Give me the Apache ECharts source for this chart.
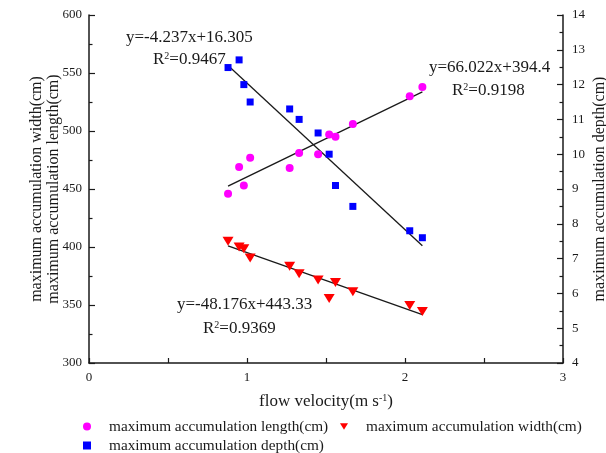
<!DOCTYPE html>
<html>
<head>
<meta charset="utf-8">
<style>
  html, body { margin: 0; padding: 0; background: #fff; }
  #chart { width: 606px; height: 453px; }
</style>
</head>
<body>
<div id="chart"></div>
<script src="https://cdn.jsdelivr.net/npm/echarts@6/dist/echarts.min.js"></script>
<script>
// flow velocity (m s-1) of each run
var velocity = [0.88, 0.95, 0.98, 1.02, 1.27, 1.33, 1.45, 1.52, 1.56, 1.67, 2.03, 2.11];
var lengthCm = [446, 469, 453, 477, 468, 481, 480, 497, 495, 506, 530, 538];
var widthCm  = [405, 400, 398.5, 390.5, 383.5, 377, 371.5, 355.5, 369.5, 361.5, 349.5, 344.5];
var depthCm  = [12.49, 12.71, 12.0, 11.5, 11.3, 11.0, 10.61, 10.0, 9.1, 8.5, 7.8, 7.6];
// fitted line end points
var lengthFit = [[0.88, 452.5], [2.11, 533.7]];
var widthFit  = [[0.88, 400.9], [2.11, 341.7]];
var depthFit  = [[0.88, 12.55], [2.11, 7.37]];

var names = ['maximum accumulation length(cm)', 'maximum accumulation width(cm)', 'maximum accumulation depth(cm)'];
var font = 'Liberation Serif';
var ink = '#1a1a1a';
var downTri = 'path://M0,0 L10,0 L5,8 Z';

function pairs(xs, ys) {
  var out = [];
  for (var i = 0; i < xs.length; i++) out.push([xs[i], ys[i]]);
  return out;
}

var chart = echarts.init(document.getElementById('chart'));

var axisCommon = {
  axisLine: { show: true, lineStyle: { color: ink, width: 1.5 } },
  axisTick: { show: true, inside: true, length: 6, lineStyle: { color: ink, width: 1.2 } },
  minorTick: { show: true, splitNumber: 2, length: 3.5, lineStyle: { color: ink, width: 1.2 } },
  splitLine: { show: false },
  axisLabel: { fontFamily: font, fontSize: 13, color: ink },
  nameMoveOverlap: false,
  nameTextStyle: { fontFamily: font, fontSize: 16, color: ink }
};

function legendOf(name, left, top, icon) {
  return {
    data: [{ name: name, icon: icon }],
    left: left, top: top,
    itemWidth: 8, itemHeight: 8,
    selectedMode: false,
    textStyle: { fontFamily: font, fontSize: 15.3, color: ink, padding: [0, 0, 0, 13] }
  };
}

function label(x, y, text) {
  return {
    type: 'text', left: x, top: y,
    style: {
      text: text,
      fill: ink,
      rich: {
        t: { fontFamily: font, fontSize: 17, fill: ink, lineHeight: 18 },
        s: { fontFamily: font, fontSize: 10, fill: ink, lineHeight: 16, verticalAlign: 'top' }
      }
    }
  };
}

var option = {
  animation: false,
  backgroundColor: '#fff',
  grid: { left: 89, right: 43, top: 15, bottom: 90, containLabel: false, outerBoundsMode: 'none' },
  legend: [
    legendOf(names[0], 78, 414, 'circle'),
    legendOf(names[1], 335, 414, downTri),
    legendOf(names[2], 78, 433, 'rect')
  ],
  xAxis: Object.assign({}, axisCommon, {
    type: 'value', min: 0, max: 3, interval: 1,
    axisTick: { show: true, inside: true, length: 5, lineStyle: { color: ink, width: 1.2 } },
    minorTick: { show: true, splitNumber: 2, length: 5, lineStyle: { color: ink, width: 1.2 } },
    axisLabel: { fontFamily: font, fontSize: 13, color: ink, margin: 8 },
    name: '{t|flow velocity(m s}{s|-1}{t|)}',
    nameLocation: 'middle', nameGap: 30,
    nameTextStyle: {
      rich: {
        t: { fontFamily: font, fontSize: 17, color: ink, lineHeight: 18 },
        s: { fontFamily: font, fontSize: 10, color: ink, lineHeight: 16, verticalAlign: 'top' }
      }
    }
  }),
  yAxis: [
    Object.assign({}, axisCommon, {
      type: 'value', position: 'left', min: 300, max: 600, interval: 50,
      axisLabel: { fontFamily: font, fontSize: 13, color: ink, margin: 7 },
      name: names[0], nameLocation: 'middle', nameGap: 27, nameRotate: 90
    }),
    Object.assign({}, axisCommon, {
      type: 'value', position: 'right', min: 4, max: 14, interval: 1,
      axisLabel: { fontFamily: font, fontSize: 13, color: ink, margin: 9 },
      name: names[2], nameLocation: 'middle', nameGap: 29, nameRotate: 90
    }),
    {
      type: 'value', position: 'left', min: 300, max: 600,
      axisLine: { show: false }, axisTick: { show: false }, axisLabel: { show: false },
      splitLine: { show: false }, nameMoveOverlap: false,
      name: names[1], nameLocation: 'middle', nameGap: 44, nameRotate: 90,
      nameTextStyle: { fontFamily: font, fontSize: 16, color: ink }
    }
  ],
  graphic: [
    label(126, 29, '{t|y=-4.237x+16.305}'),
    label(153, 51, '{t|R}{s|2}{t|=0.9467}'),
    label(429, 59, '{t|y=66.022x+394.4}'),
    label(452, 82, '{t|R}{s|2}{t|=0.9198}'),
    label(177, 296, '{t|y=-48.176x+443.33}'),
    label(203, 320, '{t|R}{s|2}{t|=0.9369}')
  ],
  series: [
    { name: names[0], type: 'scatter', yAxisIndex: 0, symbol: 'circle', symbolSize: 8,
      itemStyle: { color: '#ff00ff', opacity: 1 }, data: pairs(velocity, lengthCm), z: 3 },
    { name: names[1], type: 'scatter', yAxisIndex: 0, symbol: downTri, symbolSize: [11, 9],
      itemStyle: { color: '#ff0000', opacity: 1 }, data: pairs(velocity, widthCm), z: 3 },
    { name: names[2], type: 'scatter', yAxisIndex: 1, symbol: 'rect', symbolSize: 7,
      itemStyle: { color: '#0000ff', opacity: 1 }, data: pairs(velocity, depthCm), z: 3 },
    { type: 'line', yAxisIndex: 0, data: lengthFit, showSymbol: false, symbol: 'none',
      lineStyle: { color: ink, width: 1.3 }, silent: true, z: 2 },
    { type: 'line', yAxisIndex: 0, data: widthFit, showSymbol: false, symbol: 'none',
      lineStyle: { color: ink, width: 1.3 }, silent: true, z: 2 },
    { type: 'line', yAxisIndex: 1, data: depthFit, showSymbol: false, symbol: 'none',
      lineStyle: { color: ink, width: 1.3 }, silent: true, z: 2 }
  ]
};

chart.setOption(option);
</script>
</body>
</html>
